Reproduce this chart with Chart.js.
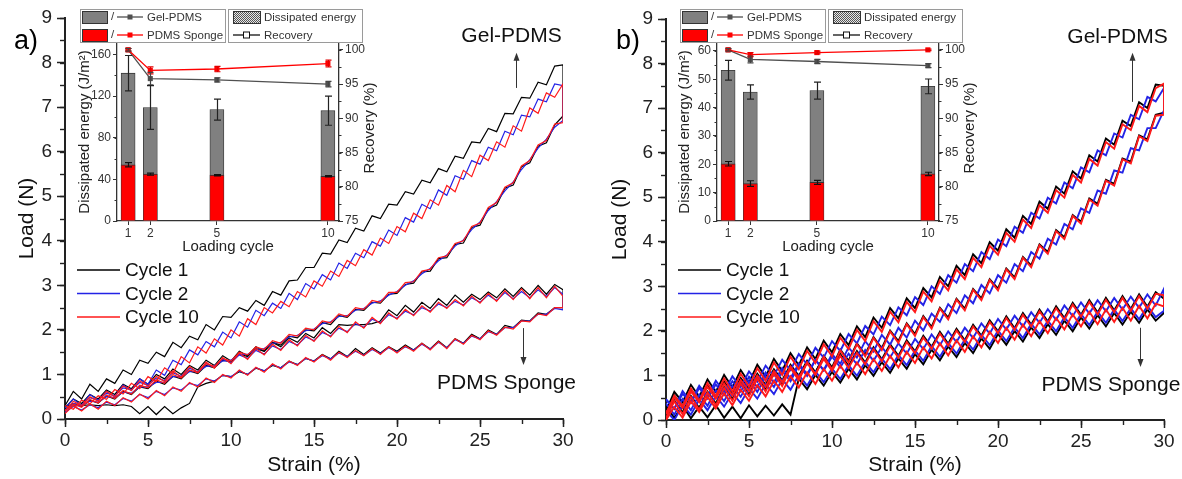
<!DOCTYPE html>
<html><head><meta charset="utf-8">
<script src="https://cdn.jsdelivr.net/npm/chart.js@4.4.1/dist/chart.umd.min.js"></script>
<style>
html,body{margin:0;padding:0;background:#fff;}
#wrap{position:relative;width:1182px;height:479px;overflow:hidden;background:#fff;}
#wrap canvas{position:absolute;}
</style></head><body>
<div id="wrap">
<canvas id="mainA" width="591" height="479" style="left:0;top:0;width:591px;height:479px"></canvas>
<canvas id="mainB" width="591" height="479" style="left:591px;top:0;width:591px;height:479px"></canvas>
<canvas id="insA" width="320" height="260" style="left:60px;top:0;width:320px;height:260px"></canvas>
<canvas id="insB" width="320" height="260" style="left:660px;top:0;width:320px;height:260px"></canvas>
</div>
<script>
// ---------- shared grid and labels ----------
const strain = [0,0.5,1,1.5,2,2.5,3,3.5,4,4.5,5,5.5,6,6.5,7,7.5,8,8.5,9,9.5,10,10.5,11,11.5,12,12.5,13,13.5,14,14.5,15,15.5,16,16.5,17,17.5,18,18.5,19,19.5,20,20.5,21,21.5,22,22.5,23,23.5,24,24.5,25,25.5,26,26.5,27,27.5,28,28.5,29,29.5,30];
const cycleLabels = ['Cycle 1','Cycle 2','Cycle 10'];
const cycleColors = ['#000000','#2323e6','#ff1a1a'];
const insetCycles = [1,2,5,10];
const seriesNames = ['Gel-PDMS','PDMS Sponge'];

// ---------- panel a: load (N) on the strain grid ----------
const gel1UpA = [0.30,0.62,0.45,0.78,0.62,0.90,0.80,1.10,1.00,1.32,1.25,1.50,1.40,1.72,1.60,1.86,1.78,2.12,2.00,2.30,2.28,2.50,2.42,2.66,2.55,2.86,2.78,3.10,3.12,3.40,3.40,3.72,3.70,4.02,3.96,4.28,4.22,4.56,4.50,4.82,4.80,5.10,5.05,5.36,5.30,5.62,5.55,5.90,5.85,6.22,6.20,6.52,6.45,6.86,6.85,7.22,7.20,7.56,7.50,7.92,7.95];
const gel1DownA = [0.22,0.35,0.28,0.42,0.36,0.52,0.45,0.62,0.55,0.72,0.68,0.85,0.78,0.96,0.90,1.08,1.02,1.20,1.15,1.32,1.28,1.46,1.40,1.58,1.52,1.72,1.66,1.86,1.82,2.00,1.98,2.16,2.12,2.32,2.28,2.46,2.44,2.62,2.60,2.80,2.82,3.02,3.05,3.30,3.32,3.60,3.62,3.92,3.95,4.30,4.35,4.72,4.80,5.18,5.25,5.66,5.75,6.12,6.20,6.60,6.80];
const gel2UpA = [0.25,0.45,0.30,0.55,0.42,0.62,0.50,0.76,0.64,0.90,0.78,1.10,0.98,1.32,1.22,1.55,1.44,1.74,1.62,1.95,1.82,2.18,2.06,2.44,2.32,2.60,2.48,2.82,2.68,3.04,2.92,3.24,3.12,3.50,3.38,3.72,3.62,3.98,3.88,4.24,4.12,4.52,4.42,4.82,4.72,5.14,5.02,5.46,5.38,5.80,5.72,6.10,6.02,6.46,6.38,6.82,6.78,7.18,7.12,7.52,7.48];
const gel2DownA = [0.20,0.30,0.30,0.40,0.38,0.50,0.48,0.60,0.58,0.72,0.72,0.82,0.82,0.95,0.95,1.06,1.06,1.18,1.20,1.30,1.32,1.45,1.45,1.56,1.58,1.70,1.72,1.84,1.88,1.98,2.02,2.14,2.18,2.30,2.32,2.44,2.48,2.60,2.65,2.78,2.86,3.00,3.10,3.26,3.38,3.55,3.68,3.88,4.02,4.25,4.42,4.68,4.88,5.12,5.32,5.60,5.82,6.08,6.28,6.55,6.70];
const gel10UpA = [0.30,0.22,0.42,0.34,0.52,0.44,0.66,0.56,0.80,0.68,0.95,0.84,1.15,1.02,1.40,1.26,1.62,1.48,1.80,1.66,2.00,1.86,2.25,2.12,2.50,2.38,2.64,2.52,2.86,2.74,3.10,2.98,3.32,3.20,3.56,3.44,3.80,3.68,4.06,3.94,4.32,4.20,4.62,4.50,4.92,4.80,5.24,5.10,5.58,5.44,5.92,5.80,6.22,6.10,6.58,6.46,6.98,6.86,7.32,7.22,7.52];
const gel10DownA = [0.18,0.34,0.26,0.44,0.36,0.54,0.46,0.64,0.56,0.76,0.70,0.88,0.80,1.00,0.92,1.10,1.04,1.24,1.18,1.36,1.30,1.50,1.44,1.62,1.56,1.76,1.70,1.90,1.86,2.04,2.00,2.20,2.16,2.36,2.30,2.50,2.46,2.66,2.62,2.84,2.84,3.06,3.08,3.32,3.36,3.62,3.66,3.94,4.00,4.32,4.40,4.75,4.86,5.20,5.30,5.68,5.80,6.15,6.25,6.62,6.65];
const sp1UpA = [0.25,0.45,0.35,0.55,0.45,0.65,0.55,0.78,0.68,0.90,0.78,1.00,0.90,1.12,1.00,1.20,1.10,1.32,1.20,1.42,1.30,1.52,1.42,1.62,1.52,1.72,1.62,1.82,1.72,1.92,1.82,2.05,1.92,2.12,2.10,2.12,2.12,2.14,2.20,2.45,2.32,2.55,2.40,2.62,2.48,2.70,2.55,2.78,2.62,2.80,2.68,2.85,2.72,2.92,2.75,2.95,2.78,3.00,2.80,3.02,2.90];
const sp1DownA = [0.30,0.32,0.30,0.32,0.30,0.32,0.30,0.32,0.28,0.12,0.28,0.10,0.28,0.12,0.25,0.35,0.72,0.80,0.85,0.98,0.95,1.06,1.00,1.14,1.08,1.20,1.15,1.30,1.22,1.36,1.30,1.45,1.35,1.52,1.40,1.58,1.45,1.60,1.48,1.62,1.52,1.66,1.55,1.70,1.57,1.75,1.60,1.80,1.70,1.90,1.80,2.00,1.90,2.10,2.05,2.22,2.20,2.38,2.35,2.50,2.50];
const sp2UpA = [0.20,0.35,0.32,0.48,0.42,0.58,0.52,0.70,0.66,0.82,0.76,0.92,0.86,1.04,0.96,1.14,1.06,1.24,1.16,1.34,1.26,1.44,1.36,1.54,1.46,1.64,1.56,1.74,1.66,1.84,1.76,1.94,1.86,2.04,1.96,2.14,2.06,2.24,2.16,2.34,2.26,2.42,2.34,2.50,2.42,2.58,2.50,2.64,2.56,2.72,2.62,2.78,2.66,2.84,2.70,2.86,2.72,2.90,2.75,2.95,2.80];
const sp2DownA = [0.15,0.28,0.20,0.32,0.25,0.38,0.32,0.46,0.40,0.55,0.48,0.62,0.55,0.70,0.65,0.80,0.75,0.90,0.85,0.98,0.95,1.08,1.00,1.15,1.08,1.22,1.15,1.28,1.22,1.36,1.30,1.42,1.35,1.48,1.40,1.52,1.43,1.56,1.47,1.60,1.50,1.62,1.55,1.68,1.57,1.72,1.60,1.78,1.70,1.86,1.80,1.96,1.90,2.05,2.05,2.20,2.20,2.35,2.35,2.48,2.45];
const sp10UpA = [0.18,0.40,0.30,0.50,0.40,0.62,0.50,0.74,0.64,0.86,0.74,0.96,0.84,1.08,0.94,1.18,1.04,1.28,1.14,1.38,1.24,1.48,1.34,1.58,1.44,1.68,1.54,1.78,1.64,1.88,1.74,1.98,1.84,2.08,1.94,2.18,2.04,2.28,2.14,2.38,2.24,2.46,2.32,2.54,2.40,2.62,2.48,2.68,2.54,2.76,2.60,2.82,2.64,2.88,2.68,2.92,2.70,2.95,2.72,2.98,2.75];
const sp10DownA = [0.12,0.30,0.18,0.34,0.22,0.40,0.30,0.48,0.38,0.56,0.45,0.64,0.52,0.72,0.62,0.82,0.72,0.92,0.82,1.00,0.92,1.10,0.98,1.16,1.05,1.24,1.12,1.30,1.20,1.38,1.28,1.44,1.32,1.50,1.38,1.54,1.42,1.58,1.45,1.62,1.48,1.64,1.52,1.70,1.55,1.74,1.58,1.80,1.68,1.88,1.78,1.98,1.88,2.06,2.02,2.20,2.18,2.36,2.32,2.50,2.50];

// ---------- panel b: load (N) on the strain grid ----------
const gel1UpB = [0.20,0.63,0.40,0.79,0.52,0.91,0.63,1.01,0.73,1.12,0.84,1.24,0.97,1.37,1.10,1.50,1.23,1.63,1.37,1.78,1.52,1.93,1.68,2.10,1.86,2.30,2.07,2.51,2.28,2.73,2.51,2.96,2.75,3.21,3.00,3.46,3.25,3.72,3.52,3.99,3.80,4.28,4.09,4.58,4.40,4.90,4.74,5.24,5.08,5.58,5.42,5.94,5.80,6.32,6.18,6.72,6.60,7.13,7.00,7.53,7.50];
const gel1DownB = [0.07,0.44,0.17,0.54,0.27,0.64,0.37,0.74,0.47,0.84,0.57,0.95,0.68,1.06,0.80,1.19,0.93,1.31,1.05,1.44,1.18,1.58,1.33,1.72,1.47,1.86,1.61,2.01,1.77,2.17,1.93,2.33,2.09,2.52,2.30,2.72,2.50,2.94,2.73,3.16,2.95,3.40,3.20,3.66,3.47,3.94,3.77,4.26,4.10,4.60,4.45,4.97,4.85,5.39,5.30,5.87,5.80,6.39,6.30,6.85,6.90];
const gel2UpB = [0.45,0.25,0.65,0.41,0.77,0.53,0.88,0.63,0.98,0.74,1.09,0.86,1.22,0.99,1.35,1.12,1.48,1.25,1.62,1.40,1.77,1.55,1.93,1.72,2.11,1.92,2.32,2.13,2.53,2.35,2.76,2.58,3.00,2.83,3.25,3.08,3.50,3.34,3.77,3.61,4.05,3.90,4.34,4.20,4.65,4.52,4.99,4.86,5.33,5.20,5.67,5.56,6.05,5.94,6.43,6.34,6.85,6.75,7.25,7.15,7.45];
const gel2DownB = [0.37,0.12,0.47,0.22,0.57,0.32,0.67,0.42,0.77,0.52,0.87,0.63,0.98,0.74,1.10,0.87,1.23,0.99,1.35,1.12,1.48,1.26,1.63,1.40,1.77,1.54,1.91,1.69,2.07,1.85,2.23,2.01,2.39,2.20,2.60,2.40,2.80,2.62,3.03,2.84,3.25,3.08,3.50,3.34,3.77,3.62,4.07,3.94,4.40,4.28,4.75,4.65,5.15,5.08,5.60,5.55,6.10,6.05,6.55,6.55,6.95];
const gel10UpB = [0.13,0.55,0.31,0.71,0.43,0.83,0.54,0.93,0.64,1.04,0.75,1.16,0.88,1.29,1.01,1.42,1.14,1.55,1.28,1.70,1.43,1.85,1.59,2.02,1.77,2.22,1.98,2.43,2.19,2.65,2.42,2.88,2.66,3.13,2.91,3.38,3.16,3.64,3.43,3.91,3.71,4.20,4.00,4.50,4.31,4.82,4.65,5.16,4.99,5.50,5.33,5.86,5.71,6.24,6.09,6.64,6.51,7.05,6.91,7.45,7.55];
const gel10DownB = [0.05,0.42,0.13,0.52,0.23,0.62,0.33,0.72,0.43,0.82,0.53,0.93,0.64,1.04,0.76,1.17,0.89,1.29,1.01,1.42,1.14,1.56,1.29,1.70,1.43,1.84,1.57,1.99,1.73,2.15,1.89,2.31,2.05,2.50,2.26,2.70,2.46,2.92,2.69,3.14,2.91,3.38,3.16,3.64,3.43,3.92,3.73,4.24,4.06,4.58,4.41,4.95,4.81,5.37,5.26,5.85,5.76,6.37,6.26,6.83,6.85];
const sp1UpB = [0.19,0.55,0.31,0.68,0.44,0.78,0.52,0.86,0.59,0.94,0.69,1.04,0.79,1.14,0.89,1.24,0.99,1.33,1.07,1.41,1.14,1.48,1.21,1.55,1.29,1.63,1.36,1.70,1.44,1.79,1.54,1.89,1.64,1.98,1.71,2.05,1.79,2.14,1.89,2.24,1.99,2.33,2.06,2.40,2.14,2.48,2.21,2.55,2.29,2.63,2.36,2.69,2.41,2.74,2.46,2.78,2.49,2.82,2.54,2.87,2.72];
const sp1DownB = [0.30,0.05,0.32,0.04,0.30,0.06,0.33,0.05,0.30,0.04,0.33,0.08,0.32,0.10,0.35,0.12,0.93,0.69,1.01,0.77,1.08,0.84,1.15,0.91,1.23,0.99,1.30,1.06,1.38,1.15,1.48,1.25,1.58,1.34,1.65,1.41,1.73,1.50,1.83,1.60,1.93,1.69,2.00,1.76,2.08,1.84,2.15,1.91,2.23,1.99,2.30,2.05,2.35,2.10,2.40,2.14,2.43,2.18,2.48,2.23,2.40];
const sp2UpB = [0.47,0.25,0.59,0.38,0.72,0.48,0.80,0.56,0.87,0.64,0.97,0.74,1.07,0.84,1.17,0.94,1.27,1.03,1.35,1.11,1.42,1.18,1.49,1.25,1.57,1.33,1.64,1.40,1.72,1.49,1.82,1.59,1.92,1.68,1.99,1.75,2.07,1.84,2.17,1.94,2.27,2.03,2.34,2.10,2.42,2.18,2.49,2.25,2.57,2.33,2.64,2.39,2.69,2.44,2.74,2.48,2.77,2.52,2.82,2.57,2.95];
const sp2DownB = [0.21,0.00,0.33,0.12,0.46,0.22,0.54,0.30,0.61,0.38,0.71,0.48,0.81,0.58,0.91,0.68,1.01,0.77,1.09,0.85,1.16,0.92,1.23,0.99,1.31,1.07,1.38,1.14,1.46,1.23,1.56,1.33,1.66,1.42,1.73,1.49,1.81,1.58,1.91,1.68,2.01,1.77,2.08,1.84,2.16,1.92,2.23,1.99,2.31,2.07,2.38,2.13,2.43,2.18,2.48,2.22,2.51,2.26,2.56,2.31,2.45];
const sp10UpB = [0.15,0.51,0.27,0.64,0.40,0.74,0.48,0.82,0.55,0.90,0.65,1.00,0.75,1.10,0.85,1.20,0.95,1.29,1.03,1.37,1.10,1.44,1.17,1.51,1.25,1.59,1.32,1.66,1.40,1.75,1.50,1.85,1.60,1.94,1.67,2.01,1.75,2.10,1.85,2.20,1.95,2.29,2.02,2.36,2.10,2.44,2.17,2.51,2.25,2.59,2.32,2.65,2.37,2.70,2.42,2.74,2.45,2.78,2.50,2.83,2.80];
const sp10DownB = [0.00,0.29,0.05,0.42,0.18,0.52,0.26,0.60,0.33,0.68,0.43,0.78,0.53,0.88,0.63,0.98,0.73,1.07,0.81,1.15,0.88,1.22,0.95,1.29,1.03,1.37,1.10,1.44,1.18,1.53,1.28,1.63,1.38,1.72,1.45,1.79,1.53,1.88,1.63,1.98,1.73,2.07,1.80,2.14,1.88,2.22,1.95,2.29,2.03,2.37,2.10,2.43,2.15,2.48,2.20,2.52,2.23,2.56,2.28,2.61,2.55];

// ---------- insets: dissipated energy (J/m2) and recovery (%) ----------
const gelEnergyA = [142,109,107,106];
const gelEnergyErrA = [17,21,10,14];
const spEnergyA = [54,45,44,43];
const spEnergyErrA = [2,1,0.6,0.6];
const gelRecA = [100,95.8,95.6,95.0];
const gelRecErrA = [0.2,0.9,0.3,0.4];
const spRecA = [100,97.0,97.2,98.0];
const spRecErrA = [0.2,0.5,0.4,0.5];

const gelEnergyB = [53.2,45.5,46,47.5];
const gelEnergyErrB = [3.5,2.5,3,2.6];
const spEnergyB = [20.2,13.2,13.6,16.6];
const spEnergyErrB = [0.8,1.0,0.7,0.6];
const gelRecB = [100,98.6,98.3,97.7];
const gelRecErrB = [0.2,0.5,0.3,0.3];
const spRecB = [100,99.3,99.6,100];
const spRecErrB = [0.1,0.3,0.2,0.1];

// ---------- styling ----------
const FAM = "'Liberation Sans', Arial, Helvetica, sans-serif";
Chart.defaults.font.family = FAM;
const AXC = '#222222';
const GRAYBAR = '#808080';
const REDBAR = '#ff0000';
const GELLINE = '#505050';

function loop(up, down) {
  const a = up.map((v, i) => ({x: strain[i], y: v}));
  const b = down.map((v, i) => ({x: strain[i], y: v})).reverse();
  return a.concat(b);
}

const minorTicks = {
  id: 'minorTicks',
  afterDraw(chart, args, o) {
    const ctx = chart.ctx;
    ctx.save();
    ctx.strokeStyle = o.color; ctx.lineWidth = o.width;
    Object.keys(o.scales).forEach(id => {
      const sc = chart.scales[id]; const sp = o.scales[id];
      const n = Math.round((sc.max - sc.min) / sp.step);
      for (let k = 0; k <= n; k++) {
        const v = sc.min + k * sp.step;
        if (v > sc.max + 1e-9) break;
        const p = Math.round(sc.getPixelForValue(v)) + 0.5;
        ctx.beginPath();
        if (sc.isHorizontal()) { ctx.moveTo(p, sc.top); ctx.lineTo(p, sc.top + sp.len); }
        else if (sc.position === 'left') { ctx.moveTo(sc.right, p); ctx.lineTo(sc.right - sp.len, p); }
        else { ctx.moveTo(sc.left, p); ctx.lineTo(sc.left + sp.len, p); }
        ctx.stroke();
      }
    });
    ctx.restore();
  }
};

const cycleLegend = {
  id: 'cycleLegend',
  afterDraw(chart, args, o) {
    const ctx = chart.ctx; const L = chart.chartArea.left;
    ctx.save();
    ctx.font = `19px ${FAM}`; ctx.textBaseline = 'middle'; ctx.textAlign = 'left'; ctx.fillStyle = '#111';
    cycleLabels.forEach((lab, i) => {
      const y = o.y0 + i * o.dy;
      ctx.strokeStyle = cycleColors[i]; ctx.lineWidth = 1.6;
      ctx.beginPath(); ctx.moveTo(L + 12, y); ctx.lineTo(L + 55, y); ctx.stroke();
      ctx.fillText(lab, L + 60, y + 1);
    });
    ctx.restore();
  }
};

const notes = {
  id: 'notes',
  afterDraw(chart, args, o) {
    const ctx = chart.ctx; const xs = chart.scales.x, ys = chart.scales.y;
    ctx.save();
    ctx.fillStyle = '#111'; ctx.textAlign = 'center'; ctx.textBaseline = 'middle';
    ctx.font = `21px ${FAM}`;
    o.texts.forEach(t => ctx.fillText(t.text, xs.getPixelForValue(t.x), ys.getPixelForValue(t.y)));
    ctx.strokeStyle = '#333'; ctx.fillStyle = '#333'; ctx.lineWidth = 1;
    o.arrows.forEach(a => {
      const x = Math.round(xs.getPixelForValue(a.x)) + 0.5;
      const y0 = ys.getPixelForValue(a.from), y1 = ys.getPixelForValue(a.to);
      const dir = y1 < y0 ? -1 : 1;
      ctx.beginPath(); ctx.moveTo(x, y0); ctx.lineTo(x, y1 - dir * 6); ctx.stroke();
      ctx.beginPath(); ctx.moveTo(x, y1); ctx.lineTo(x - 3, y1 - dir * 8); ctx.lineTo(x + 3, y1 - dir * 8); ctx.closePath(); ctx.fill();
    });
    ctx.fillStyle = '#000'; ctx.textAlign = 'left'; ctx.font = `27px ${FAM}`;
    ctx.fillText(o.panel.text, o.panel.x, o.panel.y);
    ctx.restore();
  }
};

function mainConfig(datasets, geo, ann) {
  return {
    type: 'line',
    data: { datasets },
    options: {
      responsive: false, animation: false, devicePixelRatio: 1,
      layout: { padding: { top: geo.top, right: geo.right, left: 0, bottom: 0 } },
      elements: { point: { radius: 0, hitRadius: 0 }, line: { borderWidth: geo.lw, tension: 0, borderJoinStyle: 'miter' } },
      plugins: {
        legend: { display: false }, tooltip: { enabled: false },
        minorTicks: { color: AXC, width: 1.4, scales: { x: { step: 2.5, len: 5 }, y: { step: 0.5, len: 5 } } },
        cycleLegend: { y0: 270, dy: 23.5 },
        notes: ann
      },
      scales: {
        x: {
          type: 'linear', min: 0, max: 30,
          ticks: { stepSize: 5, font: { size: 19 }, color: AXC, padding: 2, maxRotation: 0 },
          grid: { drawOnChartArea: false, tickLength: 8, tickWidth: 1.5, tickColor: AXC },
          border: { display: true, width: 2, color: AXC },
          title: { display: true, text: 'Strain (%)', font: { size: 21 }, color: '#111', padding: { top: 0, bottom: 1 } },
          afterFit: s => { s.height = geo.xh; }
        },
        y: {
          type: 'linear', min: 0, max: 9,
          ticks: { stepSize: 1, font: { size: 19 }, color: AXC, padding: 5 },
          grid: { drawOnChartArea: false, tickLength: 8, tickWidth: 1.5, tickColor: AXC },
          border: { display: true, width: 2, color: AXC },
          title: { display: true, text: 'Load (N)', font: { size: 21 }, color: '#111', padding: { top: geo.ytp, bottom: 0 } },
          afterFit: s => { s.width = geo.left; }
        }
      }
    },
    plugins: [minorTicks, cycleLegend, notes]
  };
}

function mainSets(g1u, g1d, g2u, g2d, g10u, g10d, s1u, s1d, s2u, s2d, s10u, s10d) {
  const mk = (lab, d, c, ord) => ({ label: lab, data: d, borderColor: c, backgroundColor: c, order: ord, fill: false, pointRadius: 0 });
  return [
    mk(cycleLabels[2] + ' ' + seriesNames[0], loop(g10u, g10d), cycleColors[2], 0),
    mk(cycleLabels[2] + ' ' + seriesNames[1], loop(s10u, s10d), cycleColors[2], 0),
    mk(cycleLabels[1] + ' ' + seriesNames[0], loop(g2u, g2d), cycleColors[1], 1),
    mk(cycleLabels[1] + ' ' + seriesNames[1], loop(s2u, s2d), cycleColors[1], 1),
    mk(cycleLabels[0] + ' ' + seriesNames[0], loop(g1u, g1d), cycleColors[0], 2),
    mk(cycleLabels[0] + ' ' + seriesNames[1], loop(s1u, s1d), cycleColors[0], 2)
  ];
}

new Chart(document.getElementById('mainA'), mainConfig(
  mainSets(gel1UpA, gel1DownA, gel2UpA, gel2DownA, gel10UpA, gel10DownA, sp1UpA, sp1DownA, sp2UpA, sp2DownA, sp10UpA, sp10DownA),
  { left: 65, right: 28, top: 18, xh: 60, ytp: 15, lw: 1.2 },
  { texts: [{ text: seriesNames[0], x: 26.9, y: 8.6 }, { text: seriesNames[1], x: 26.6, y: 0.81 }],
    arrows: [{ x: 27.17, from: 7.43, to: 8.22 }, { x: 27.6, from: 2.04, to: 1.21 }],
    panel: { text: 'a)', x: 14, y: 42 } }
));

new Chart(document.getElementById('mainB'), mainConfig(
  mainSets(gel1UpB, gel1DownB, gel2UpB, gel2DownB, gel10UpB, gel10DownB, sp1UpB, sp1DownB, sp2UpB, sp2DownB, sp10UpB, sp10DownB),
  { left: 75, right: 18, top: 19, xh: 59, ytp: 17, lw: 1.9 },
  { texts: [{ text: seriesNames[0], x: 27.2, y: 8.6 }, { text: seriesNames[1], x: 26.8, y: 0.79 }],
    arrows: [{ x: 28.1, from: 7.14, to: 8.24 }, { x: 28.55, from: 2.07, to: 1.19 }],
    panel: { text: 'b)', x: 25, y: 42 } }
));

// ---------- inset ----------
const errorBars = {
  id: 'errorBars',
  afterDatasetsDraw(chart) {
    const ctx = chart.ctx; const xs = chart.scales.x;
    chart.data.datasets.forEach(ds => {
      if (!ds.err) return;
      const ys = chart.scales[ds.yAxisID];
      ctx.save(); ctx.strokeStyle = ds.errColor; ctx.lineWidth = 1.2;
      ds.data.forEach((p, i) => {
        const x = Math.round(xs.getPixelForValue(p.x)) + 0.5;
        const yt = ys.getPixelForValue(p.y + ds.err[i]), yb = ys.getPixelForValue(p.y - ds.err[i]);
        ctx.beginPath();
        ctx.moveTo(x, yt); ctx.lineTo(x, yb);
        ctx.moveTo(x - ds.cap, yt); ctx.lineTo(x + ds.cap, yt);
        ctx.moveTo(x - ds.cap, yb); ctx.lineTo(x + ds.cap, yb);
        ctx.stroke();
      });
      ctx.restore();
    });
  }
};

function hatchPattern(ctx) {
  const c = document.createElement('canvas'); c.width = 4; c.height = 4;
  const g = c.getContext('2d');
  g.fillStyle = '#e6e6e6'; g.fillRect(0, 0, 4, 4);
  g.fillStyle = '#555';
  g.fillRect(0, 0, 1, 1); g.fillRect(2, 0, 1, 1); g.fillRect(1, 1, 1, 1); g.fillRect(3, 1, 1, 1);
  g.fillRect(0, 2, 1, 1); g.fillRect(2, 2, 1, 1); g.fillRect(1, 3, 1, 1); g.fillRect(3, 3, 1, 1);
  return ctx.createPattern(c, 'repeat');
}

const insetLegend = {
  id: 'insetLegend',
  afterDraw(chart, args, o) {
    const ctx = chart.ctx;
    ctx.save();
    ctx.lineWidth = 1; ctx.strokeStyle = '#9a9a9a';
    ctx.strokeRect(o.b1[0] + 0.5, o.b1[1] + 0.5, o.b1[2], o.b1[3]);
    ctx.strokeRect(o.b2[0] + 0.5, o.b2[1] + 0.5, o.b2[2], o.b2[3]);
    ctx.font = `11.5px ${FAM}`; ctx.textBaseline = 'middle'; ctx.textAlign = 'left';
    const fills = [GRAYBAR, REDBAR], lines = [GELLINE, REDBAR];
    o.rows.forEach((y, i) => {
      ctx.fillStyle = fills[i]; ctx.fillRect(o.px, y - 6, 25, 12);
      ctx.strokeStyle = '#333'; ctx.strokeRect(o.px + 0.5, y - 5.5, 25, 12);
      ctx.fillStyle = '#333'; ctx.fillText('/', o.px + 29, y);
      ctx.strokeStyle = lines[i]; ctx.lineWidth = 1.3;
      ctx.beginPath(); ctx.moveTo(o.px + 35, y); ctx.lineTo(o.px + 61, y); ctx.stroke();
      ctx.fillStyle = lines[i]; ctx.fillRect(o.px + 45.5, y - 2.5, 5, 5);
      ctx.fillStyle = '#333'; ctx.fillText(seriesNames[i], o.px + 65, y + 0.5);
      ctx.lineWidth = 1;
    });
    const y1 = o.rows[0], y2 = o.rows[1];
    ctx.fillStyle = hatchPattern(ctx); ctx.fillRect(o.qx, y1 - 6, 27, 12);
    ctx.strokeStyle = '#333'; ctx.strokeRect(o.qx + 0.5, y1 - 5.5, 27, 12);
    ctx.fillStyle = '#333'; ctx.fillText('Dissipated energy', o.qx + 31, y1 + 0.5);
    ctx.strokeStyle = '#111'; ctx.lineWidth = 1.3;
    ctx.beginPath(); ctx.moveTo(o.qx, y2); ctx.lineTo(o.qx + 27, y2); ctx.stroke();
    ctx.fillStyle = '#fff'; ctx.fillRect(o.qx + 10.5, y2 - 3, 6, 6);
    ctx.lineWidth = 1; ctx.strokeRect(o.qx + 10.5, y2 - 3, 6, 6);
    ctx.fillStyle = '#333'; ctx.fillText('Recovery', o.qx + 31, y2 + 0.5);
    const ca = chart.chartArea;
    ctx.translate(o.recX, (ca.top + ca.bottom) / 2 - 4); ctx.rotate(-Math.PI / 2);
    ctx.textAlign = 'center'; ctx.font = `15px ${FAM}`; ctx.fillStyle = '#222';
    ctx.fillText('Recovery (%)', 0, 0);
    ctx.restore();
  }
};

function insetConfig(gE, gEe, sE, sEe, gR, gRe, sR, sRe, yMax, yStep) {
  const pts = arr => insetCycles.map((c, i) => ({ x: c, y: arr[i] }));
  return {
    type: 'bar',
    data: { datasets: [
      { type: 'line', label: seriesNames[1] + ' recovery', data: pts(sR), yAxisID: 'y2', borderColor: REDBAR, backgroundColor: REDBAR,
        borderWidth: 1.3, pointStyle: 'rect', pointRadius: 3.6, pointBorderWidth: 0, order: 0, err: sRe, errColor: '#e00000', cap: 3 },
      { type: 'line', label: seriesNames[0] + ' recovery', data: pts(gR), yAxisID: 'y2', borderColor: GELLINE, backgroundColor: GELLINE,
        borderWidth: 1.3, pointStyle: 'rect', pointRadius: 3.6, pointBorderWidth: 0, order: 1, err: gRe, errColor: '#444', cap: 3 },
      { type: 'bar', label: seriesNames[1] + ' energy', data: pts(sE), yAxisID: 'y', backgroundColor: REDBAR, borderColor: '#333',
        borderWidth: { top: 1, left: 0.6, right: 0.6, bottom: 0 }, barThickness: 14, grouped: false, order: 2, err: sEe, errColor: '#111', cap: 3.5 },
      { type: 'bar', label: seriesNames[0] + ' energy', data: pts(gE), yAxisID: 'y', backgroundColor: GRAYBAR, borderColor: '#333',
        borderWidth: 0.8, barThickness: 14, grouped: false, order: 3, err: gEe, errColor: '#222', cap: 3.5 }
    ]},
    options: {
      responsive: false, animation: false, devicePixelRatio: 1,
      layout: { padding: { top: 43, left: 0, right: 0, bottom: 0 } },
      plugins: {
        legend: { display: false }, tooltip: { enabled: false },
        minorTicks: { color: '#333', width: 1, scales: { y: { step: yStep / 2, len: 2.5 }, y2: { step: 2.5, len: 2.5 } } },
        insetLegend: { b1: [20, 9, 145, 33], b2: [168, 9, 134, 33], rows: [17, 35], px: 22, qx: 173, recX: 310 }
      },
      scales: {
        x: {
          type: 'linear', min: 0.5, max: 10.5, offset: false,
          afterBuildTicks: s => { s.ticks = insetCycles.map(v => ({ value: v })); },
          ticks: { font: { size: 12 }, color: '#333', padding: 1, maxRotation: 0, autoSkip: false },
          grid: { drawOnChartArea: false, offset: false, tickLength: 4, tickColor: '#333', tickWidth: 1 },
          border: { display: true, width: 1.3, color: '#333' },
          title: { display: true, text: 'Loading cycle', font: { size: 15 }, color: '#222', padding: { top: 0, bottom: 4 } },
          afterFit: s => { s.height = 39; }
        },
        y: {
          type: 'linear', position: 'left', min: 0, max: yMax,
          ticks: { stepSize: yStep, includeBounds: false, font: { size: 12 }, color: '#333', padding: 2 },
          grid: { drawOnChartArea: false, tickLength: 4, tickColor: '#333', tickWidth: 1 },
          border: { display: true, width: 1.3, color: '#333' },
          title: { display: true, text: 'Dissipated energy (J/m²)', font: { size: 15 }, color: '#222', padding: { top: 16, bottom: 0 } },
          afterFit: s => { s.width = 57; }
        },
        y2: {
          type: 'linear', position: 'right', min: 75, max: 101,
          ticks: { stepSize: 5, includeBounds: false, font: { size: 12 }, color: '#333', padding: 2 },
          grid: { drawOnChartArea: false, tickLength: 4, tickColor: '#333', tickWidth: 1 },
          border: { display: true, width: 1.3, color: '#333' },
          title: { display: false },
          afterFit: s => { s.width = 41; }
        }
      }
    },
    plugins: [minorTicks, errorBars, insetLegend]
  };
}

new Chart(document.getElementById('insA'), insetConfig(gelEnergyA, gelEnergyErrA, spEnergyA, spEnergyErrA, gelRecA, gelRecErrA, spRecA, spRecErrA, 171, 40));
new Chart(document.getElementById('insB'), insetConfig(gelEnergyB, gelEnergyErrB, spEnergyB, spEnergyErrB, gelRecB, gelRecErrB, spRecB, spRecErrB, 62.8, 10));
</script>
</body></html>
